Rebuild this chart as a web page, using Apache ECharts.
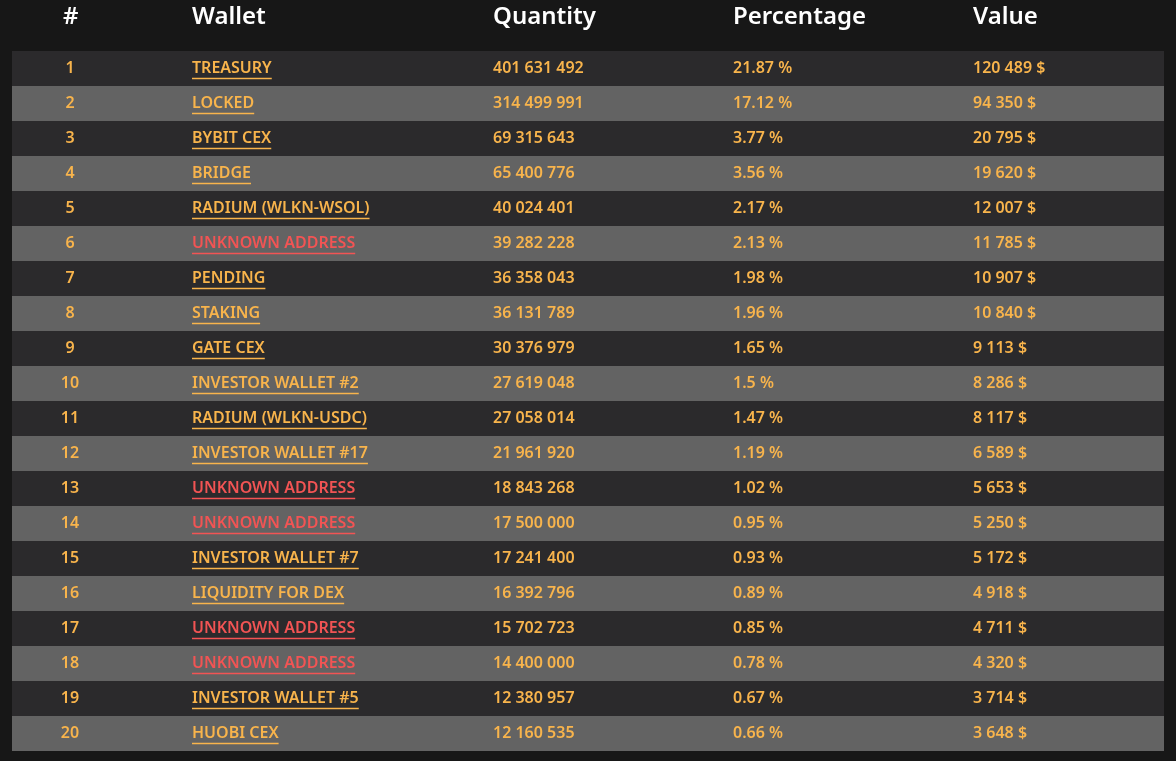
<!DOCTYPE html>
<html>
<head>
<meta charset="utf-8">
<script src="https://cdn.jsdelivr.net/npm/echarts@6/dist/echarts.min.js"></script>
<style>
  html, body { margin: 0; padding: 0; background: #171717; }
  #main { width: 1176px; height: 761px; }
</style>
</head>
<body>
<div id="main"></div>
<script>
var headers = ['#', 'Wallet', 'Quantity', 'Percentage', 'Value'];
var wallets = ['TREASURY', 'LOCKED', 'BYBIT CEX', 'BRIDGE', 'RADIUM (WLKN-WSOL)', 'UNKNOWN ADDRESS', 'PENDING', 'STAKING', 'GATE CEX', 'INVESTOR WALLET #2', 'RADIUM (WLKN-USDC)', 'INVESTOR WALLET #17', 'UNKNOWN ADDRESS', 'UNKNOWN ADDRESS', 'INVESTOR WALLET #7', 'LIQUIDITY FOR DEX', 'UNKNOWN ADDRESS', 'UNKNOWN ADDRESS', 'INVESTOR WALLET #5', 'HUOBI CEX'];
var quantities = ['401 631 492', '314 499 991', '69 315 643', '65 400 776', '40 024 401', '39 282 228', '36 358 043', '36 131 789', '30 376 979', '27 619 048', '27 058 014', '21 961 920', '18 843 268', '17 500 000', '17 241 400', '16 392 796', '15 702 723', '14 400 000', '12 380 957', '12 160 535'];
var percentages = ['21.87 %', '17.12 %', '3.77 %', '3.56 %', '2.17 %', '2.13 %', '1.98 %', '1.96 %', '1.65 %', '1.5 %', '1.47 %', '1.19 %', '1.02 %', '0.95 %', '0.93 %', '0.89 %', '0.85 %', '0.78 %', '0.67 %', '0.66 %'];
var values = ['120 489 $', '94 350 $', '20 795 $', '19 620 $', '12 007 $', '11 785 $', '10 907 $', '10 840 $', '9 113 $', '8 286 $', '8 117 $', '6 589 $', '5 653 $', '5 250 $', '5 172 $', '4 918 $', '4 711 $', '4 320 $', '3 714 $', '3 648 $'];
var ranks = wallets.map(function (w, i) { return String(i + 1); });

var colX = [70, 192, 493, 733, 973];
var orange = '#f8b44c', red = '#f25454';
var rowFont = '600 16px "Noto Sans", sans-serif';

var measure = document.createElement('canvas').getContext('2d');
measure.font = rowFont;

var chart = echarts.init(document.getElementById('main'));

chart.setOption({
  backgroundColor: '#171717',
  animation: false,
  grid: { left: 12, right: 12, top: 51, bottom: 10 },
  xAxis: { type: 'value', min: 0, max: 1152, show: false },
  yAxis: { type: 'category', inverse: true, data: ranks, show: false },
  graphic: headers.map(function (h, i) {
    return {
      type: 'text', left: i === 0 ? colX[0] - 7 : colX[i], top: 5,
      style: { text: h, fill: '#ffffff', font: '600 24px "Noto Sans", sans-serif' }
    };
  }),
  series: [{
    type: 'custom',
    data: ranks.map(function (r, i) { return [0, i]; }),
    encode: { x: 0, y: 1 },
    renderItem: function (params, api) {
      var i = params.dataIndex;
      var p = api.coord([0, i]);
      var h = api.size([0, 1])[1];
      var w = api.size([1152, 0])[0];
      var top = p[1] - h / 2;
      var cy = p[1];
      var isRed = wallets[i] === 'UNKNOWN ADDRESS';
      var c = isRed ? red : orange;
      var wx = colX[1] + 12;
      var tw = measure.measureText(wallets[i]).width;
      function txt(x, s, align, fill) {
        return { type: 'text', style: { x: x, y: cy, text: s, fill: fill, font: rowFont, align: align, verticalAlign: 'middle' } };
      }
      return {
        type: 'group',
        children: [
          { type: 'rect', shape: { x: p[0], y: top, width: w, height: h }, style: { fill: i % 2 ? '#636363' : '#2b2a2c' } },
          txt(colX[0] + 12 - 12, ranks[i], 'center', orange),
          txt(colX[1], wallets[i], 'left', c),
          { type: 'line', shape: { x1: colX[1], y1: cy + 10, x2: colX[1] + tw, y2: cy + 10 }, style: { stroke: c, lineWidth: 1.5 } },
          txt(colX[2], quantities[i], 'left', orange),
          txt(colX[3], percentages[i], 'left', orange),
          txt(colX[4], values[i], 'left', orange)
        ]
      };
    }
  }]
});
</script>
</body>
</html>
